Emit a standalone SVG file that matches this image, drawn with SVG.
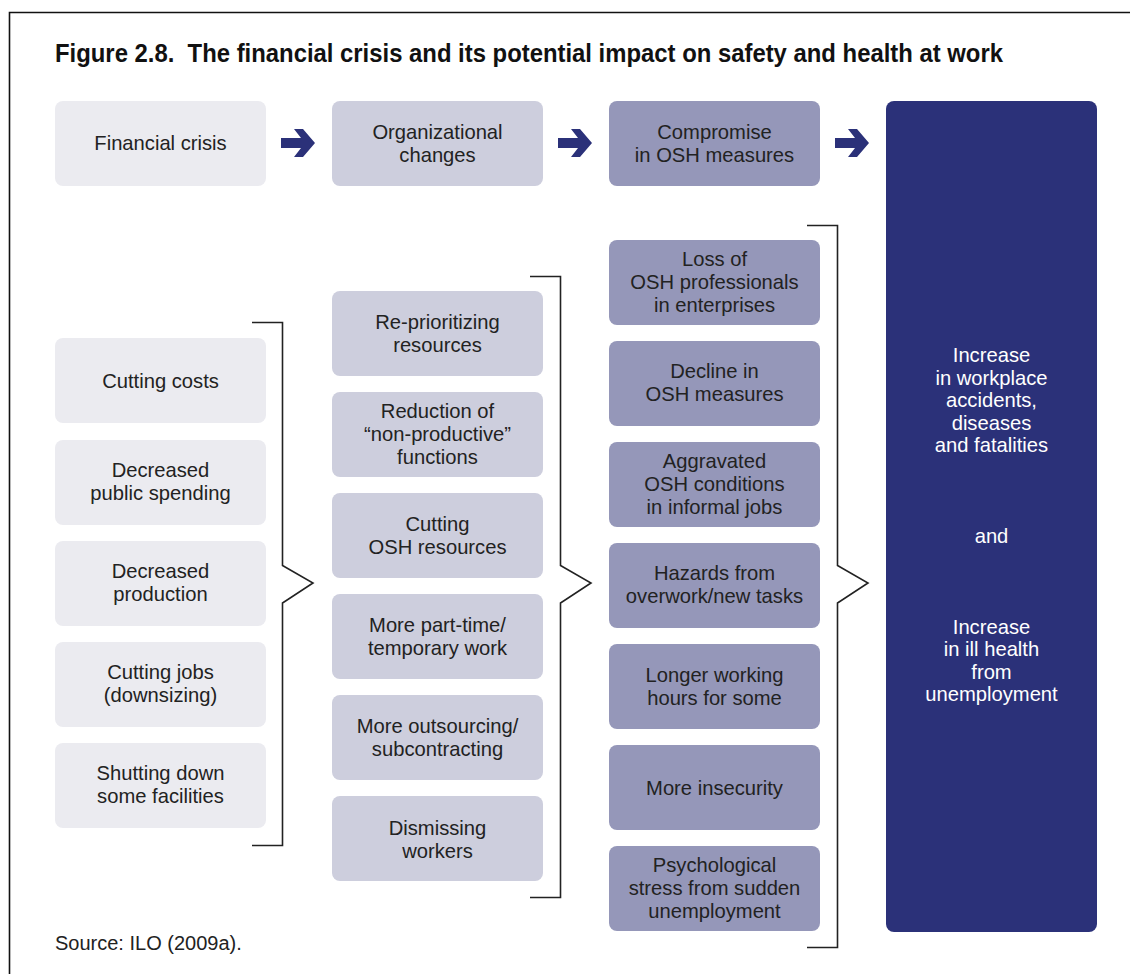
<svg xmlns="http://www.w3.org/2000/svg" width="1130" height="974" viewBox="0 0 1130 974">
  <defs>
    <style>
      .t { font-family: "Liberation Sans", Arial, sans-serif; font-size: 20.2px; fill: #222; text-anchor: middle; }
      .w { font-family: "Liberation Sans", Arial, sans-serif; font-size: 20.2px; fill: #ffffff; text-anchor: middle; }
      .title { font-family: "Liberation Sans", Arial, sans-serif; font-size: 25px; font-weight: bold; fill: #111; white-space: pre; }
      .src { font-family: "Liberation Sans", Arial, sans-serif; font-size: 20px; fill: #222; }
      .c1 { fill: #ebebf0; }
      .c2 { fill: #cdcedd; }
      .c3 { fill: #9597b9; }
      .c4 { fill: #2b3179; }
      .br { fill: none; stroke: #222; stroke-width: 1.6; }
      .arr { fill: #2b3179; }
    </style>
    <polygon id="arrow" points="0,-5 20,-5 13,-14 22,-14 34,0 22,14 13,14 20,5 0,5"/>
  </defs>

  <rect width="1130" height="974" fill="#ffffff"/>
  <!-- frame -->
  <path d="M9.5,974 V12.5 H1130" fill="none" stroke="#111" stroke-width="1.6"/>

  <text class="title" x="55" y="62" textLength="948" lengthAdjust="spacingAndGlyphs" xml:space="preserve">Figure 2.8.  The financial crisis and its potential impact on safety and health at work</text>

  <!-- top row -->
  <g id="financial-crisis">
    <rect class="c1" x="55" y="101" width="211" height="85" rx="8"/>
    <text class="t" x="160.5" y="150">Financial crisis</text>
  </g>
  <g id="organizational-changes">
    <rect class="c2" x="332" y="101" width="211" height="85" rx="8"/>
    <text class="t" x="437.5" y="138.5">Organizational</text>
    <text class="t" x="437.5" y="161.5">changes</text>
  </g>
  <g id="compromise-osh">
    <rect class="c3" x="609" y="101" width="211" height="85" rx="8"/>
    <text class="t" x="714.5" y="138.5">Compromise</text>
    <text class="t" x="714.5" y="161.5">in OSH measures</text>
  </g>
  <g id="outcomes">
    <rect class="c4" x="886" y="101" width="211" height="831" rx="8"/>
    <text class="w" x="991.5" y="362">Increase</text>
    <text class="w" x="991.5" y="384.5">in workplace</text>
    <text class="w" x="991.5" y="407">accidents,</text>
    <text class="w" x="991.5" y="429.5">diseases</text>
    <text class="w" x="991.5" y="452">and fatalities</text>
    <text class="w" x="991.5" y="543">and</text>
    <text class="w" x="991.5" y="633.5">Increase</text>
    <text class="w" x="991.5" y="656">in ill health</text>
    <text class="w" x="991.5" y="678.5">from</text>
    <text class="w" x="991.5" y="701">unemployment</text>
  </g>

  <!-- column 1: causes -->
  <g id="cutting-costs">
    <rect class="c1" x="55" y="338" width="211" height="85" rx="8"/>
    <text class="t" x="160.5" y="387.5">Cutting costs</text>
  </g>
  <g id="decreased-public-spending">
    <rect class="c1" x="55" y="440" width="211" height="85" rx="8"/>
    <text class="t" x="160.5" y="477">Decreased</text>
    <text class="t" x="160.5" y="500">public spending</text>
  </g>
  <g id="decreased-production">
    <rect class="c1" x="55" y="541" width="211" height="85" rx="8"/>
    <text class="t" x="160.5" y="578">Decreased</text>
    <text class="t" x="160.5" y="601">production</text>
  </g>
  <g id="cutting-jobs">
    <rect class="c1" x="55" y="642" width="211" height="85" rx="8"/>
    <text class="t" x="160.5" y="679">Cutting jobs</text>
    <text class="t" x="160.5" y="702">(downsizing)</text>
  </g>
  <g id="shutting-down">
    <rect class="c1" x="55" y="743" width="211" height="85" rx="8"/>
    <text class="t" x="160.5" y="780">Shutting down</text>
    <text class="t" x="160.5" y="803">some facilities</text>
  </g>

  <!-- column 2: organizational changes -->
  <g id="re-prioritizing">
    <rect class="c2" x="332" y="291" width="211" height="85" rx="8"/>
    <text class="t" x="437.5" y="328.5">Re-prioritizing</text>
    <text class="t" x="437.5" y="351.5">resources</text>
  </g>
  <g id="reduction-non-productive">
    <rect class="c2" x="332" y="392" width="211" height="85" rx="8"/>
    <text class="t" x="437.5" y="418">Reduction of</text>
    <text class="t" x="437.5" y="441">“non-productive”</text>
    <text class="t" x="437.5" y="464">functions</text>
  </g>
  <g id="cutting-osh-resources">
    <rect class="c2" x="332" y="493" width="211" height="85" rx="8"/>
    <text class="t" x="437.5" y="530.5">Cutting</text>
    <text class="t" x="437.5" y="553.5">OSH resources</text>
  </g>
  <g id="part-time">
    <rect class="c2" x="332" y="594" width="211" height="85" rx="8"/>
    <text class="t" x="437.5" y="631.5">More part-time/</text>
    <text class="t" x="437.5" y="654.5">temporary work</text>
  </g>
  <g id="outsourcing">
    <rect class="c2" x="332" y="695" width="211" height="85" rx="8"/>
    <text class="t" x="437.5" y="732.5">More outsourcing/</text>
    <text class="t" x="437.5" y="755.5">subcontracting</text>
  </g>
  <g id="dismissing-workers">
    <rect class="c2" x="332" y="796" width="211" height="85" rx="8"/>
    <text class="t" x="437.5" y="834.5">Dismissing</text>
    <text class="t" x="437.5" y="857.5">workers</text>
  </g>

  <!-- column 3: compromised OSH -->
  <g id="loss-osh-professionals">
    <rect class="c3" x="609" y="240" width="211" height="85" rx="8"/>
    <text class="t" x="714.5" y="266">Loss of</text>
    <text class="t" x="714.5" y="289">OSH professionals</text>
    <text class="t" x="714.5" y="312">in enterprises</text>
  </g>
  <g id="decline-osh-measures">
    <rect class="c3" x="609" y="341" width="211" height="85" rx="8"/>
    <text class="t" x="714.5" y="378">Decline in</text>
    <text class="t" x="714.5" y="401">OSH measures</text>
  </g>
  <g id="aggravated-conditions">
    <rect class="c3" x="609" y="442" width="211" height="85" rx="8"/>
    <text class="t" x="714.5" y="468">Aggravated</text>
    <text class="t" x="714.5" y="491">OSH conditions</text>
    <text class="t" x="714.5" y="514">in informal jobs</text>
  </g>
  <g id="hazards-overwork">
    <rect class="c3" x="609" y="543" width="211" height="85" rx="8"/>
    <text class="t" x="714.5" y="580">Hazards from</text>
    <text class="t" x="714.5" y="603">overwork/new tasks</text>
  </g>
  <g id="longer-hours">
    <rect class="c3" x="609" y="644" width="211" height="85" rx="8"/>
    <text class="t" x="714.5" y="682">Longer working</text>
    <text class="t" x="714.5" y="705">hours for some</text>
  </g>
  <g id="more-insecurity">
    <rect class="c3" x="609" y="745" width="211" height="85" rx="8"/>
    <text class="t" x="714.5" y="794.5">More insecurity</text>
  </g>
  <g id="psychological-stress">
    <rect class="c3" x="609" y="846" width="211" height="85" rx="8"/>
    <text class="t" x="714.5" y="872">Psychological</text>
    <text class="t" x="714.5" y="895">stress from sudden</text>
    <text class="t" x="714.5" y="918">unemployment</text>
  </g>

  <!-- connectors: arrows and brackets -->
  <g id="connectors">
    <use href="#arrow" class="arr" x="281" y="143"/>
    <use href="#arrow" class="arr" x="558" y="143"/>
    <use href="#arrow" class="arr" x="835" y="143"/>
    <path class="br" d="M252,322.5 H282.5 V565.5 L313,583 L282.5,603 V845.5 H252"/>
    <path class="br" d="M530,276.5 H560.5 V565.5 L591,583 L560.5,603 V897.5 H530"/>
    <path class="br" d="M807,225.5 H837.5 V565.5 L868,583 L837.5,603 V947.5 H807"/>
  </g>

  <text class="src" x="55" y="950">Source: ILO (2009a).</text>
</svg>
